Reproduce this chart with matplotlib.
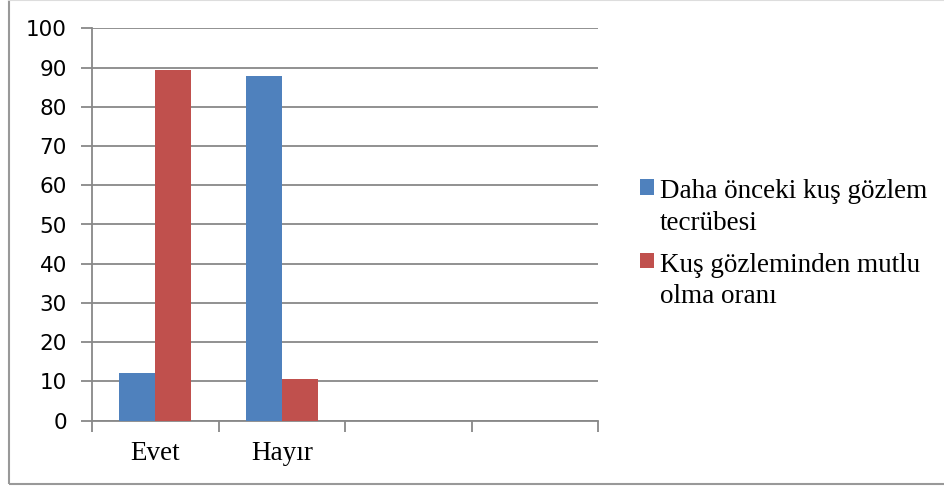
import matplotlib
matplotlib.use("Agg")
import matplotlib.pyplot as plt
from matplotlib.patches import Rectangle
from matplotlib.lines import Line2D
import numpy as np

# ==============================
# DATA
# ==============================

categories = ["Evet", "Hayır", "", ""]
series_names = ["Daha önceki kuş gözlem\ntecrübesi",
                "Kuş gözleminden mutlu\nolma oranı"]
deneyim = [12, 88]
mutlu = [89.5, 10.5]
y_ticks = list(range(0, 101, 10))

BLUE = "#4F81BD"
RED = "#C0504D"
GRID = "#888888"
SERIF = "Liberation Serif"
SANS = "DejaVu Sans"

# ==============================
# FIGURE
# ==============================

W, H = 944, 486
fig = plt.figure(figsize=(W / 100, H / 100), dpi=100)
ax = fig.add_axes([92 / W, (H - 420.5) / H, (598 - 92) / W, (420.5 - 28.5) / H])

bar_w = 1 / 3.5
x = np.arange(len(deneyim)) + 0.5
b1 = ax.bar(x - bar_w / 2, deneyim, bar_w, color=BLUE, zorder=3)
b2 = ax.bar(x + bar_w / 2, mutlu, bar_w, color=RED, zorder=3)

ax.set_xlim(0, len(categories))
ax.set_ylim(0, 100)
ax.set_yticks(y_ticks)
ax.yaxis.grid(True, color=GRID, linewidth=1.3, zorder=0)
ax.set_axisbelow(True)

# category boundaries as major ticks, labels on minor ticks
ax.set_xticks(range(len(categories) + 1))
ax.set_xticklabels([])
ax.set_xticks(np.arange(len(categories)) + 0.5, minor=True)
ax.set_xticklabels(categories, minor=True, fontfamily=SERIF, fontsize=19.5)
ax.tick_params(axis="x", which="major", length=8, width=1.3, color=GRID, direction="out")
ax.tick_params(axis="x", which="minor", length=0, pad=15)
ax.tick_params(axis="y", length=8, width=1.3, color=GRID, pad=10)
for lab in ax.get_yticklabels():
    lab.set_fontfamily(SANS)
    lab.set_fontsize(15.5)

for s in ["top", "right"]:
    ax.spines[s].set_visible(False)
for s in ["left", "bottom"]:
    ax.spines[s].set_color(GRID)
    ax.spines[s].set_linewidth(1.3)

# ==============================
# LEGEND
# ==============================

leg = fig.legend([b1, b2], series_names, loc="upper left",
                 bbox_to_anchor=(640 / W, 1 - 179.5 / H), frameon=False,
                 prop={"family": SERIF, "size": 19.5},
                 handlelength=0.52, handleheight=0.52, handletextpad=0.22,
                 labelspacing=0.62, borderpad=0, borderaxespad=0)
for t in leg.get_texts():
    t.set_linespacing(1.33)
# square next to the first line, like Excel does
for col in leg._legend_handle_box.get_children():
    for row in col.get_children():
        row.align = "top"

# ==============================
# OUTER BORDER
# ==============================

fig.add_artist(Rectangle((9 / W, 2 / H), 1.0, 1.0, transform=fig.transFigure,
                         fill=False, edgecolor="#999999", linewidth=1.5))
fig.add_artist(Line2D([9 / W, 1], [1 - 0.5 / H, 1 - 0.5 / H], transform=fig.transFigure,
                      color="#dddddd", linewidth=1.5))

fig.savefig("out.png", dpi=100)
